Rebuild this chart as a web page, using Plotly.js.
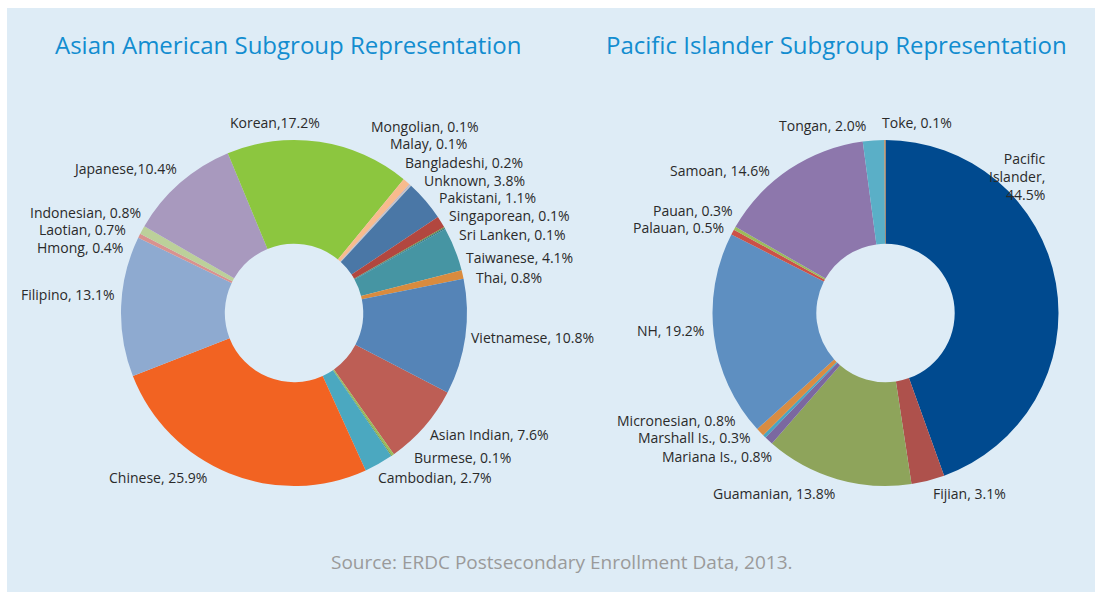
<!DOCTYPE html>
<html>
<head>
<meta charset="utf-8">
<script src="https://cdn.plot.ly/plotly-3.0.1.min.js"></script>
<style>html,body{margin:0;padding:0;background:#fff;}#chart{width:1102px;height:592px;}</style>
</head>
<body>
<div id="chart"></div>
<script>
// ---- Asian American data ----
var asianNames = ["Asian Indian","Bangladeshi","Burmese","Cambodian","Chinese","Filipino","Hmong","Indonesian","Japanese","Korean","Laotian","Malay","Mongolian","Unknown","Pakistani","Singaporean","Sri Lanken","Taiwanese","Thai","Vietnamese"];
var asianValues = [7.6,0.2,0.1,2.7,25.9,13.1,0.4,0.8,10.4,17.2,0.7,0.1,0.1,3.8,1.1,0.1,0.1,4.1,0.8,10.8];
var asianSep = [", ",", ",", ",", ",", ",", ",", ",", ",",",",",", ",", ",", ",", ",", ",", ",", ",", ",", ",", "];
var asianColors = ["#BD5E55","#9BBB59","#7A9A3C","#4BA8C0","#F26322","#8EAAD0","#D9928F","#BCD09A","#A899BE","#8CC63F","#F8BB8E","#B8B0C8","#C4C4C4","#4A77A6","#B2473F","#6F9040","#2E6E80","#4695A3","#D98B3E","#5584B7"];

// ---- Pacific Islander data ----
var pacNames = ["Pacific Islander","Fijian","Guamanian","Mariana Is.","Marshall Is.","Micronesian","NH","Palauan","Pauan","Samoan","Tongan","Toke"];
var pacValues = [44.5,3.1,13.8,0.8,0.3,0.8,19.2,0.5,0.3,14.6,2.0,0.1];
var pacColors = ["#004A8F","#AE514C","#8EA45B","#7B68A0","#4AA5C0","#D98C42","#5E8FC1","#CC5147","#9CBB5A","#8D77AC","#5AAFC7","#D47A30"];

var W = 1102, H = 592;
function fx(p){return p/W;}
function fy(p){return 1-p/H;}

// label anchor points (pixels): [x, y, xanchor]
var asianLabelPos = {
 "Korean":[275,122,"center"],
 "Mongolian":[369,126,"left"],
 "Malay":[388,143,"left"],
 "Bangladeshi":[403,162,"left"],
 "Unknown":[422,180,"left"],
 "Pakistani":[437,197,"left"],
 "Singaporean":[447,215,"left"],
 "Sri Lanken":[457,235,"left"],
 "Taiwanese":[464,257,"left"],
 "Thai":[474,277,"left"],
 "Vietnamese":[469,337,"left"],
 "Asian Indian":[428,434,"left"],
 "Burmese":[412,457,"left"],
 "Cambodian":[376,477,"left"],
 "Chinese":[209,477,"right"],
 "Filipino":[116,294,"right"],
 "Hmong":[125,248,"right"],
 "Laotian":[128,230,"right"],
 "Indonesian":[143,212,"right"],
 "Japanese":[179,168,"right"]
};
var pacLabelPos = {
 "Pacific Islander":[1048,176,"right"],
 "Fijian":[931,493,"left"],
 "Guamanian":[837,493,"right"],
 "Mariana Is.":[774,456,"right"],
 "Marshall Is.":[753,437,"right"],
 "Micronesian":[738,420,"right"],
 "NH":[706,330,"right"],
 "Palauan":[726,228,"right"],
 "Pauan":[735,210,"right"],
 "Samoan":[772,171,"right"],
 "Tongan":[868,125,"right"],
 "Toke":[880,122,"left"]
};

var R = 173;
var cL = [294,313], cR = [885.5,313];

var traces = [
 {type:"pie", labels:asianNames, values:asianValues, hole:0.4, sort:false, direction:"clockwise", rotation:117.4,
  marker:{colors:asianColors, line:{width:0}}, textinfo:"none", hoverinfo:"label+percent", showlegend:false,
  domain:{x:[fx(cL[0]-R),fx(cL[0]+R)], y:[fy(cL[1]+R),fy(cL[1]-R)]}},
 {type:"pie", labels:pacNames, values:pacValues, hole:0.4, sort:false, direction:"clockwise", rotation:0,
  marker:{colors:pacColors, line:{width:0}}, textinfo:"none", hoverinfo:"label+percent", showlegend:false,
  domain:{x:[fx(cR[0]-R),fx(cR[0]+R)], y:[fy(cR[1]+R),fy(cR[1]-R)]}}
];

var labelFont = {family:"Open Sans, sans-serif", size:14, color:"#2A2A2A"};
var ann = [];
asianNames.forEach(function(n,i){
  var p = asianLabelPos[n];
  ann.push({xref:"paper",yref:"paper",x:fx(p[0]),y:fy(p[1]),xanchor:p[2],yanchor:"middle",showarrow:false,
    text:n+asianSep[i]+asianValues[i].toFixed(1)+"%", font:labelFont});
});
pacNames.forEach(function(n,i){
  var p = pacLabelPos[n];
  var t = n+", "+pacValues[i].toFixed(1)+"%";
  if(n==="Pacific Islander"){ t = "Pacific<br>Islander,<br>"+pacValues[i].toFixed(1)+"%"; }
  ann.push({xref:"paper",yref:"paper",x:fx(p[0]),y:fy(p[1]),xanchor:p[2],yanchor:"middle",showarrow:false,
    text:t, font:labelFont, align:(n==="Pacific Islander"?"right":"left")});
});
var titleFont = {family:"Open Sans, sans-serif", size:24, color:"#128DD0"};
ann.push({xref:"paper",yref:"paper",x:fx(288),y:fy(44),xanchor:"center",yanchor:"middle",showarrow:false,
  text:"Asian American Subgroup Representation", font:titleFont});
ann.push({xref:"paper",yref:"paper",x:fx(836.5),y:fy(44),xanchor:"center",yanchor:"middle",showarrow:false,
  text:"Pacific Islander Subgroup Representation", font:titleFont});
ann.push({xref:"paper",yref:"paper",x:fx(562),y:fy(562),xanchor:"center",yanchor:"middle",showarrow:false,
  text:"Source: ERDC Postsecondary Enrollment Data, 2013.", font:{family:"Open Sans, sans-serif", size:19, color:"#9A9A9A"}});

var layout = {
  width:W, height:H, margin:{l:0,r:0,t:0,b:0},
  paper_bgcolor:"#DEECF6", plot_bgcolor:"#DEECF6",
  showlegend:false,
  annotations:ann,
  shapes:[
    {type:"rect",xref:"paper",yref:"paper",x0:0,x1:1,y0:fy(8),y1:1,fillcolor:"#FFFFFF",line:{width:0},layer:"above"},
    {type:"rect",xref:"paper",yref:"paper",x0:0,x1:fx(7),y0:0,y1:1,fillcolor:"#FFFFFF",line:{width:0},layer:"above"},
    {type:"rect",xref:"paper",yref:"paper",x0:fx(1095),x1:1,y0:0,y1:1,fillcolor:"#FFFFFF",line:{width:0},layer:"above"}
  ]
};
Plotly.newPlot("chart", traces, layout, {displayModeBar:false, staticPlot:true});
</script>
</body>
</html>
